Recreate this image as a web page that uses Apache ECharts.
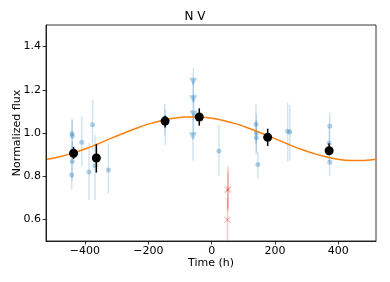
<!DOCTYPE html>
<html>
<head>
<meta charset="utf-8">
<script src="https://cdn.jsdelivr.net/npm/echarts@6/dist/echarts.min.js"></script>
<style>html,body{margin:0;padding:0;background:#fff}#c{width:390px;height:282px}</style>
</head>
<body>
<div id="c"></div>
<script>
// Individual observations (blue circles)
const obsX  = [-441, -440, -440, -442, -410, -376, -387, -368, -326, -148, -146, 23, 140, 141, 141, 146, 240, 247, 373, 371, 373];
const obsY  = [0.998, 0.986, 0.868, 0.806, 0.957, 1.038, 0.820, 0.848, 0.829, 1.070, 1.045, 0.917, 1.040, 1.000, 0.978, 0.854, 1.008, 1.005, 1.032, 0.952, 0.865];
const obsLo = [0.900, 0.880, 0.780, 0.737, 0.845, 0.920, 0.690, 0.690, 0.720, 0.990, 0.945, 0.800, 0.950, 0.914, 0.900, 0.790, 0.867, 0.870, 0.960, 0.870, 0.800];
const obsHi = [1.065, 1.060, 0.960, 0.880, 1.075, 1.155, 0.954, 0.990, 0.950, 1.134, 1.110, 1.037, 1.134, 1.090, 1.060, 0.914, 1.140, 1.130, 1.094, 1.030, 0.930];
// Observations shown as down triangles
const triX  = [-58, -58, -57, -59];
const triY  = [1.237, 1.156, 1.086, 0.985];
const triLo = [1.150, 1.060, 0.990, 0.872];
const triHi = [1.300, 1.250, 1.180, 1.090];
// Rejected observations (red crosses)
const redX  = [52, 51, 50];
const redY  = [0.742, 0.735, 0.598];
const redLo = [0.640, 0.650, 0.480];
const redHi = [0.845, 0.820, 0.700];
// Binned points (black)
const binX  = [-436, -364, -147, -39, 177, 371];
const binY  = [0.906, 0.884, 1.055, 1.074, 0.980, 0.918];
const binLo = [0.880, 0.817, 1.025, 1.034, 0.940, 0.898];
const binHi = [0.935, 0.948, 1.080, 1.114, 1.020, 0.952];
// Model curve
const curveX = [-520, -480, -440, -400, -360, -320, -280, -240, -200, -160, -120, -80, -40, 0, 40, 80, 120, 160, 200, 240, 280, 320, 360, 400, 440, 480, 520];
const curveY = [0.878, 0.890, 0.906, 0.926, 0.949, 0.974, 0.998, 1.021, 1.041, 1.057, 1.068, 1.074, 1.074, 1.068, 1.057, 1.041, 1.021, 0.998, 0.974, 0.949, 0.926, 0.906, 0.890, 0.878, 0.873, 0.873, 0.878];
// Ticks
const xTicks = [-400, -200, 0, 200, 400];
const yTicks = [0.6, 0.8, 1.0, 1.2, 1.4];

const FONT = 'DejaVu Sans';
const zip3 = (a, b, c) => a.map((v, i) => [v, b[i], c[i]]);
const zip2 = (a, b) => a.map((v, i) => [v, b[i]]);

function errBar(color, width) {
  return function (params, api) {
    const x = api.value(0);
    const p1 = api.coord([x, api.value(1)]);
    const p2 = api.coord([x, api.value(2)]);
    return {
      type: 'line',
      shape: { x1: p1[0], y1: p1[1], x2: p2[0], y2: p2[1] },
      style: { stroke: color, lineWidth: width }
    };
  };
}

const chart = echarts.init(document.getElementById('c'), null, { renderer: 'canvas' });
chart.setOption({
  animation: false,
  backgroundColor: '#fff',
  title: {
    text: 'N V', left: 'center', top: 6,
    textStyle: { fontFamily: FONT, fontSize: 12, fontWeight: 'normal', color: '#000' }
  },
  grid: { left: 46, right: 14, top: 25, bottom: 41, show: true, borderColor: '#000', borderWidth: 0.8,
    backgroundColor: 'transparent', containLabel: false, outerBoundsMode: 'none' },
  xAxis: {
    type: 'value', min: -523, max: 519,
    name: 'Time (h)', nameLocation: 'middle', nameGap: 17, nameMoveOverlap: false,
    nameTextStyle: { fontFamily: FONT, fontSize: 11, color: '#000' },
    axisLine: { show: true, onZero: false, lineStyle: { color: '#000', width: 0.8 } },
    axisTick: { show: true, length: 3.5, customValues: xTicks, lineStyle: { color: '#000', width: 0.8 } },
    axisLabel: { customValues: xTicks, fontFamily: FONT, fontSize: 11, color: '#000', margin: 5,
      formatter: v => (v < 0 ? '\u2212' + Math.abs(v) : String(v)) },
    splitLine: { show: false }
  },
  yAxis: {
    type: 'value', min: 0.5, max: 1.5,
    name: 'Normalized flux', nameLocation: 'middle', nameGap: 23, nameRotate: 90, nameMoveOverlap: false,
    nameTextStyle: { fontFamily: FONT, fontSize: 11, color: '#000' },
    axisLine: { show: true, onZero: false, lineStyle: { color: '#000', width: 0.8 } },
    axisTick: { show: true, length: 3.5, customValues: yTicks, lineStyle: { color: '#000', width: 0.8 } },
    axisLabel: { customValues: yTicks, fontFamily: FONT, fontSize: 11, color: '#000', margin: 5,
      formatter: v => v.toFixed(1) },
    splitLine: { show: false }
  },
  series: [
    { type: 'custom', renderItem: errBar('rgba(31,119,180,0.2)', 1.5), data: zip3(obsX, obsLo, obsHi), clip: true, z: 1 },
    { type: 'custom', renderItem: errBar('rgba(31,119,180,0.2)', 1.5), data: zip3(triX, triLo, triHi), clip: true, z: 1 },
    { type: 'custom', renderItem: errBar('rgba(214,39,40,0.25)', 1.5), data: zip3(redX, redLo, redHi), clip: true, z: 1 },
    { type: 'scatter', data: zip2(obsX, obsY), symbol: 'circle', symbolSize: 5,
      itemStyle: { color: 'rgba(31,119,180,0.35)', opacity: 1 }, z: 2 },
    { type: 'scatter', data: zip2(triX, triY), symbol: 'triangle', symbolRotate: 180, symbolSize: 8,
      itemStyle: { color: 'rgba(31,119,180,0.35)', opacity: 1 }, z: 2 },
    { type: 'scatter', data: zip2(redX, redY), symbol: 'path://M0,0L10,10M10,0L0,10', symbolSize: 6,
      itemStyle: { color: 'none', borderColor: 'rgba(214,39,40,0.4)', borderWidth: 1, opacity: 1 }, z: 2 },
    { type: 'line', data: zip2(curveX, curveY), smooth: true, showSymbol: false, symbol: 'none',
      lineStyle: { color: '#ff7f0e', width: 1.5 }, clip: true, z: 3 },
    { type: 'custom', renderItem: errBar('#000', 1.5), data: zip3(binX, binLo, binHi), clip: true, z: 4 },
    { type: 'scatter', data: zip2(binX, binY), symbol: 'circle', symbolSize: 9,
      itemStyle: { color: '#000', opacity: 1 }, z: 5 }
  ]
});
</script>
</body>
</html>
